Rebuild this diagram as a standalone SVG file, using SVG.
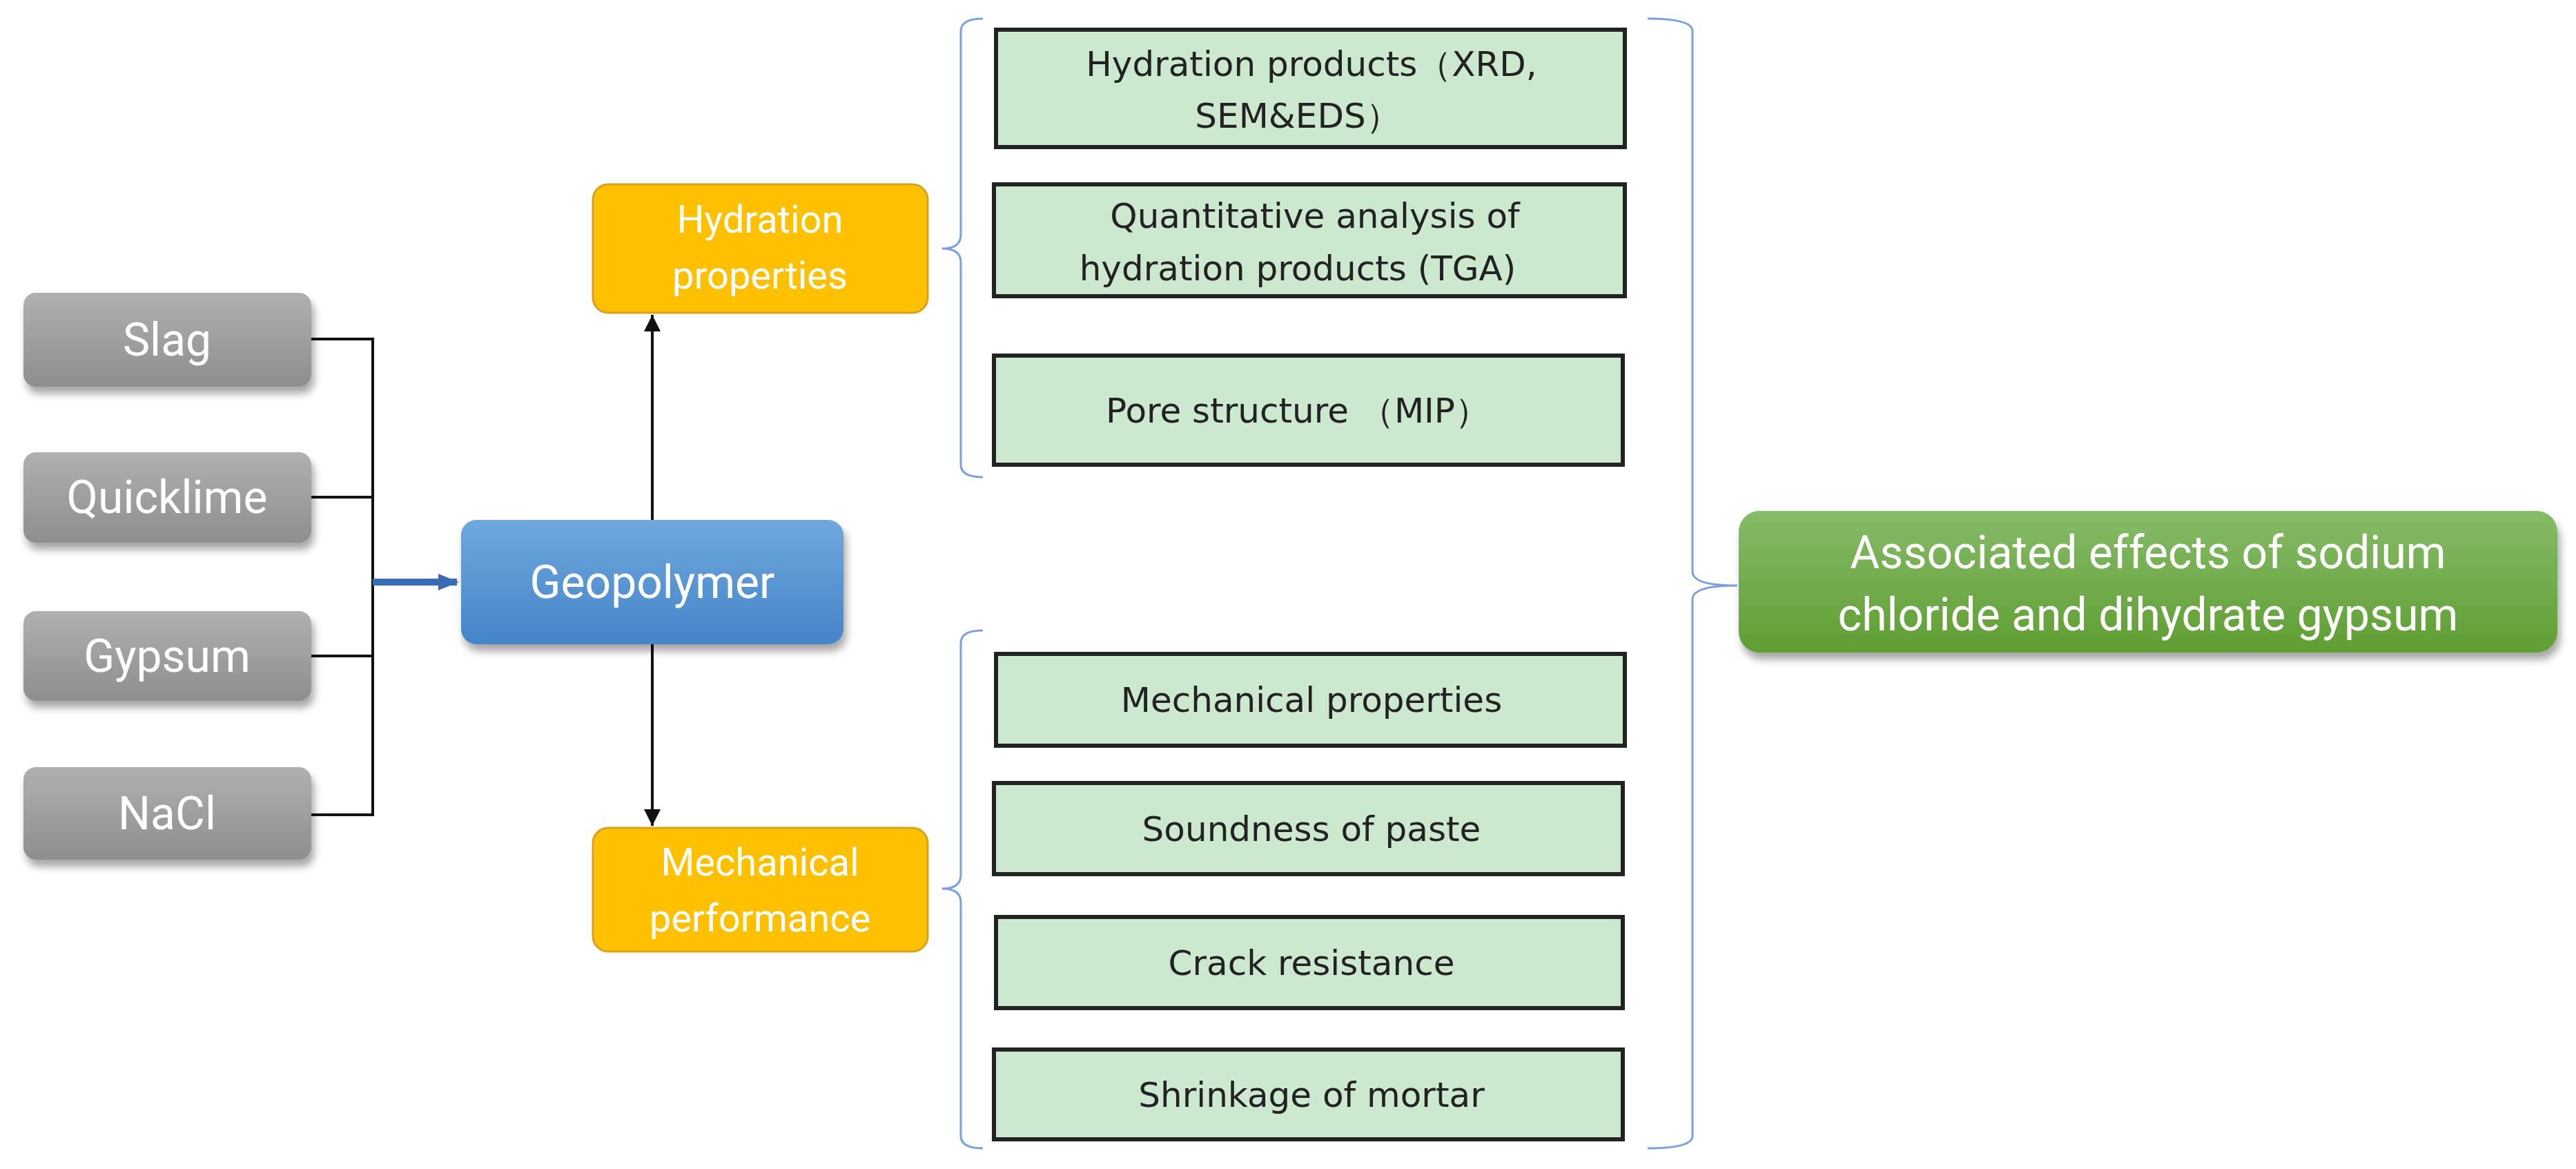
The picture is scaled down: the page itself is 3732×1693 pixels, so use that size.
<svg xmlns="http://www.w3.org/2000/svg" width="3732" height="1693" viewBox="0 0 3732 1693">
<style>
.lbl{font-family:Roboto,"Noto Sans",sans-serif;fill:#fff;text-anchor:middle}
.gt{font-family:"DejaVu Sans","Noto Sans",sans-serif;fill:#222;text-anchor:middle;font-size:50px}
.gb{fill:#cce8cf;stroke:#222;stroke-width:6}
.ln{stroke:#111;stroke-width:4;fill:none}
.br{stroke:#7aa0de;stroke-width:3;fill:none}
</style>
<defs>
<linearGradient id="gg" x1="0" y1="0" x2="0" y2="1"><stop offset="0" stop-color="#b0b0b0"/><stop offset="1" stop-color="#8e8e8e"/></linearGradient>
<linearGradient id="bg" x1="0" y1="0" x2="0" y2="1"><stop offset="0" stop-color="#6fa8de"/><stop offset="1" stop-color="#4584c8"/></linearGradient>
<linearGradient id="grg" x1="0" y1="0" x2="0" y2="1"><stop offset="0" stop-color="#86bb69"/><stop offset="1" stop-color="#5f9e32"/></linearGradient>
<filter id="sh" x="-10%" y="-10%" width="120%" height="140%"><feDropShadow dx="4" dy="10" stdDeviation="6" flood-color="#000" flood-opacity="0.35"/></filter>
<marker id="ah" viewBox="0 0 10 10" refX="10" refY="5" markerWidth="6" markerHeight="6" orient="auto-start-reverse" markerUnits="strokeWidth"><path d="M0,0 L10,5 L0,10 z" fill="#111"/></marker>
<marker id="bah" viewBox="0 0 10 10" refX="9" refY="5" markerWidth="3" markerHeight="3" orient="auto" markerUnits="strokeWidth"><path d="M0,1 L10,5 L0,9 z" fill="#3c6bb5"/></marker>
</defs>
<g id="connectors">
<path class="ln" d="M451,491 H540 V1180 H451 M451,720 H540 M451,950 H540"/>
<line x1="540" y1="843" x2="662" y2="843" stroke="#3c6bb5" stroke-width="10" marker-end="url(#bah)"/>
<line class="ln" x1="945" y1="753" x2="945" y2="456" stroke-width="3" marker-end="url(#ah)"/>
<line class="ln" x1="945" y1="933" x2="945" y2="1196" stroke-width="3" marker-end="url(#ah)"/>
<path class="br" d="M1424,27 Q1392,27 1392,45 V340 Q1392,360 1365,360 Q1392,360 1392,380 V673 Q1392,691 1424,691"/>
<path class="br" d="M1424,913 Q1392,913 1392,931 V1267 Q1392,1287 1365,1287 Q1392,1287 1392,1307 V1645 Q1392,1663 1424,1663"/>
<path class="br" d="M2387,27 Q2452,27 2452,45 V828 Q2452,848 2517,848 Q2452,848 2452,868 V1645 Q2452,1663 2387,1663"/>
</g>
<g id="slag"><rect x="34" y="424" width="417" height="136" rx="18" fill="url(#gg)" filter="url(#sh)"/><text class="lbl" x="242" y="515" font-size="66">Slag</text></g>
<g id="quicklime"><rect x="34" y="655" width="417" height="131" rx="18" fill="url(#gg)" filter="url(#sh)"/><text class="lbl" x="242" y="743" font-size="66">Quicklime</text></g>
<g id="gypsum"><rect x="34" y="885" width="417" height="130" rx="18" fill="url(#gg)" filter="url(#sh)"/><text class="lbl" x="242" y="973" font-size="66">Gypsum</text></g>
<g id="nacl"><rect x="34" y="1111" width="417" height="134" rx="18" fill="url(#gg)" filter="url(#sh)"/><text class="lbl" x="242" y="1201" font-size="66">NaCl</text></g>
<g id="geopolymer"><rect x="668" y="753" width="554" height="180" rx="22" fill="url(#bg)" filter="url(#sh)"/><text class="lbl" x="945" y="866" font-size="66">Geopolymer</text></g>
<g id="hydration"><rect x="859" y="267" width="485" height="186" rx="22" fill="#ffc000" stroke="#d9a21c" stroke-width="3"/><text class="lbl" x="1101" y="337" font-size="56">Hydration</text><text class="lbl" x="1101" y="418" font-size="56">properties</text></g>
<g id="mechanical"><rect x="859" y="1199" width="485" height="179" rx="22" fill="#ffc000" stroke="#d9a21c" stroke-width="3"/><text class="lbl" x="1101" y="1268" font-size="56">Mechanical</text><text class="lbl" x="1101" y="1349" font-size="56">performance</text></g>
<g id="b1"><rect class="gb" x="1443" y="43" width="911" height="170"/><text class="gt" x="1900" y="110">Hydration products（XRD,</text><text class="gt" x="1880" y="185">SEM&amp;EDS）</text></g>
<g id="b2"><rect class="gb" x="1440" y="267" width="914" height="162"/><text class="gt" x="1905" y="330">Quantitative analysis of</text><text class="gt" x="1880" y="406">hydration products (TGA)</text></g>
<g id="b3"><rect class="gb" x="1440" y="515" width="911" height="158"/><text class="gt" x="1880" y="612">Pore structure （MIP）</text></g>
<g id="b4"><rect class="gb" x="1443" y="947" width="911" height="133"/><text class="gt" x="1900" y="1031">Mechanical properties</text></g>
<g id="b5"><rect class="gb" x="1440" y="1134" width="911" height="132"/><text class="gt" x="1900" y="1218">Soundness of paste</text></g>
<g id="b6"><rect class="gb" x="1443" y="1328" width="908" height="132"/><text class="gt" x="1900" y="1412">Crack resistance</text></g>
<g id="b7"><rect class="gb" x="1440" y="1520" width="911" height="130"/><text class="gt" x="1900" y="1603">Shrinkage of mortar</text></g>
<g id="effects"><rect x="2519" y="740" width="1186" height="205" rx="30" fill="url(#grg)" filter="url(#sh)"/><text class="lbl" x="3112" y="823" font-size="66">Associated effects of sodium</text><text class="lbl" x="3112" y="913" font-size="66">chloride and dihydrate gypsum</text></g>
</svg>
